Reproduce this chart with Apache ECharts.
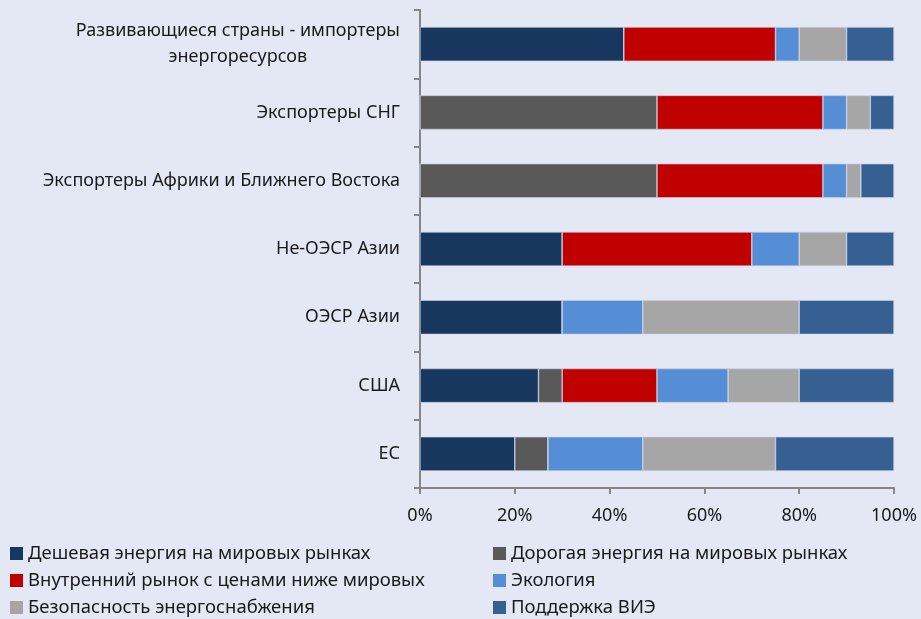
<!DOCTYPE html>
<html>
<head>
<meta charset="utf-8">
<script src="https://cdn.jsdelivr.net/npm/echarts@6/dist/echarts.min.js"></script>
<style>
  html, body { margin: 0; padding: 0; background: #e4e8f4; }
  #chart { width: 921px; height: 619px; }
</style>
</head>
<body>
<div id="chart"></div>
<script>
// categories, bottom to top (as drawn by the y axis)
const regions = [
  "ЕС",
  "США",
  "ОЭСР Азии",
  "Не-ОЭСР Азии",
  "Экспортеры Африки и Ближнего Востока",
  "Экспортеры СНГ",
  "Развивающиеся страны - импортеры\nэнергоресурсов"
];
const seriesNames = [
  "Дешевая энергия на мировых рынках",
  "Дорогая энергия на мировых рынках",
  "Внутренний рынок с ценами ниже мировых",
  "Экология",
  "Безопасность энергоснабжения",
  "Поддержка ВИЭ"
];
const cheapEnergy   = [20, 25, 30, 30, 0, 0, 43];
const expensive     = [7, 5, 0, 0, 50, 50, 0];
const domestic      = [0, 20, 0, 40, 35, 35, 32];
const ecology       = [20, 15, 17, 10, 5, 5, 5];
const security      = [28, 15, 33, 10, 3, 5, 10];
const renewables    = [25, 20, 20, 10, 7, 5, 10];
const xTicks = [0, 20, 40, 60, 80, 100];

const colors = ["#17375e", "#595959", "#c00000", "#558ed5", "#a6a6a6", "#376092"];
const values = [cheapEnergy, expensive, domestic, ecology, security, renewables];

const legendStyle = {
  orient: "vertical",
  top: 544, height: 120, padding: 0,
  itemWidth: 13, itemHeight: 13, itemGap: 8,
  icon: "rect",
  itemStyle: { borderWidth: 0 },
  textStyle: { fontSize: 18.5, color: "#1a1a1a" }
};

let chart = echarts.init(document.getElementById("chart"));
chart.setOption({
  backgroundColor: "#e4e8f4",
  animation: false,
  color: colors,
  textStyle: { fontFamily: "Noto Sans" },
  grid: { left: 420, right: 27, top: 10, bottom: 131, containLabel: false },
  legend: [
    Object.assign({ left: 10, data: [seriesNames[0], seriesNames[2], seriesNames[4]] }, legendStyle),
    Object.assign({ left: 493, data: [seriesNames[1], seriesNames[3], seriesNames[5]] }, legendStyle)
  ],
  xAxis: {
    type: "value",
    min: 0, max: 100, interval: 20,
    axisLine: { show: true, lineStyle: { color: "#868686", width: 2 } },
    axisTick: { show: true, length: 6, lineStyle: { color: "#868686", width: 2 } },
    splitLine: { show: false },
    axisLabel: {
      formatter: v => (xTicks.includes(v) ? v + "%" : ""),
      fontSize: 18, color: "#1a1a1a", margin: 19
    }
  },
  yAxis: {
    type: "category",
    data: regions,
    axisLine: { show: true, lineStyle: { color: "#868686", width: 2 } },
    axisTick: { show: true, length: 6, alignWithLabel: false, lineStyle: { color: "#868686", width: 2 } },
    axisLabel: {
      fontSize: 18, color: "#1a1a1a", margin: 20, align: "right",
      formatter: v => v.split("\n").map(s => "{c|" + s + "}").join("\n"),
      rich: { c: { fontSize: 18, color: "#1a1a1a", align: "center", lineHeight: 26 } }
    }
  },
  series: seriesNames.map((name, i) => ({
    name: name,
    type: "bar",
    stack: "total",
    barWidth: "50%",
    data: values[i],
    itemStyle: { color: colors[i], borderColor: "#c9d1e6", borderWidth: 0.6 }
  }))
});
</script>
</body>
</html>
